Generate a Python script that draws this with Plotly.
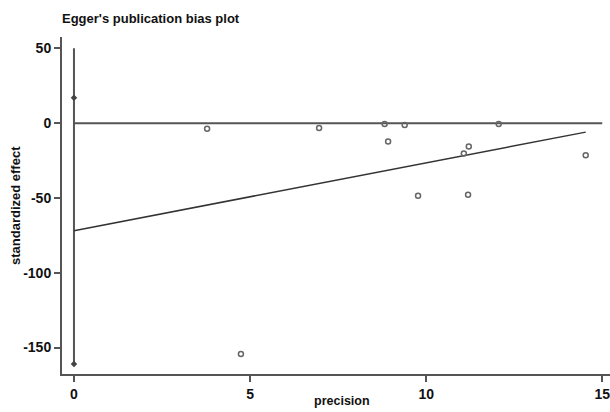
import plotly.graph_objects as go

# Study points (precision, standardized effect)
precision = [3.78, 6.96, 8.82, 9.39, 8.92, 12.06, 11.21, 11.07, 14.53, 9.77, 11.19, 4.74]
std_effect = [-3.8, -3.3, -0.5, -1.3, -12.3, -0.5, -15.6, -20.3, -21.4, -48.6, -47.9, -154.3]

# Egger regression line endpoints
fit_x = [0, 14.53]
fit_y = [-71.9, -6.0]

# Intercept CI at precision 0
ci_x = [0, 0]
ci_y = [-161, 50]
ci_marks = [17, -161]

# Reference zero line
zero_x = [0, 15]
zero_y = [0, 0]

x_ticks = [0, 5, 10, 15]
y_ticks = [-150, -100, -50, 0, 50]
y_tick_labels = ["-150", "-100", "-50", "0", "50"]

line_col = "#555555"
font_fam = "Liberation Sans, Arial, sans-serif"

W, H = 610, 412
ML, MR, MT, MB = 62, 0, 37, 38
PW, PH = W - ML - MR, H - MT - MB


def px_to_paper(wx, wy):
    return (wx - ML) / PW, (H - MB - wy) / PH


fig = go.Figure()
fig.add_trace(go.Scatter(x=zero_x, y=zero_y, mode="lines",
                         line=dict(color=line_col, width=2), showlegend=False))
fig.add_trace(go.Scatter(x=ci_x, y=ci_y, mode="lines",
                         line=dict(color=line_col, width=2), showlegend=False))
fig.add_trace(go.Scatter(x=[0, 0], y=ci_marks, mode="markers",
                         marker=dict(color="#444444", size=5, symbol="diamond"),
                         showlegend=False))
fig.add_trace(go.Scatter(x=fit_x, y=fit_y, mode="lines",
                         line=dict(color="#333333", width=1.5), showlegend=False))
fig.add_trace(go.Scatter(x=precision, y=std_effect, mode="markers",
                         marker=dict(symbol="circle-open", color="#666666", size=5,
                                     line=dict(width=1.5, color="#666666")),
                         showlegend=False))

xt_x, xt_y = px_to_paper(342, 401)
yt_x, yt_y = px_to_paper(15, 206)

fig.update_layout(
    width=W, height=H,
    margin=dict(l=ML, r=MR, t=MT, b=MB, autoexpand=False),
    plot_bgcolor="white", paper_bgcolor="white",
    font=dict(family=font_fam, color="#111111"),
    title=dict(text="Egger's publication bias plot", x=62 / W, xanchor="left",
               y=1 - 18 / H, yanchor="middle", xref="container", yref="container",
               font=dict(size=13, weight="bold", family=font_fam, color="#111111")),
    xaxis=dict(range=[-0.34, 15.22], tickvals=x_ticks, ticks="outside", ticklen=6,
               tickwidth=1.5, tickcolor=line_col, showline=True, linecolor=line_col,
               linewidth=2, showgrid=False, zeroline=False, ticklabeloverflow="allow",
               tickfont=dict(size=14, weight="bold", family=font_fam, color="#111111")),
    yaxis=dict(range=[-167.7, 57.6], tickvals=y_ticks, ticktext=y_tick_labels,
               ticks="outside", ticklen=6,
               tickwidth=1.5, tickcolor=line_col, showline=True, linecolor=line_col,
               linewidth=2, showgrid=False, zeroline=False,
               tickfont=dict(size=14, weight="bold", family=font_fam, color="#111111")),
    annotations=[
        dict(text="precision", x=xt_x, y=xt_y, xref="paper", yref="paper",
             showarrow=False, xanchor="center", yanchor="middle",
             font=dict(size=12.5, weight="bold", family=font_fam, color="#111111")),
        dict(text="standardized effect", x=yt_x, y=yt_y, xref="paper", yref="paper",
             showarrow=False, xanchor="center", yanchor="middle", textangle=-90,
             font=dict(size=13, weight="bold", family=font_fam, color="#111111")),
    ],
)

fig.write_html(
    "out.html",
    config={"displayModeBar": False},
    post_script="document.body.style.margin='0';document.body.style.overflow='hidden';",
)
